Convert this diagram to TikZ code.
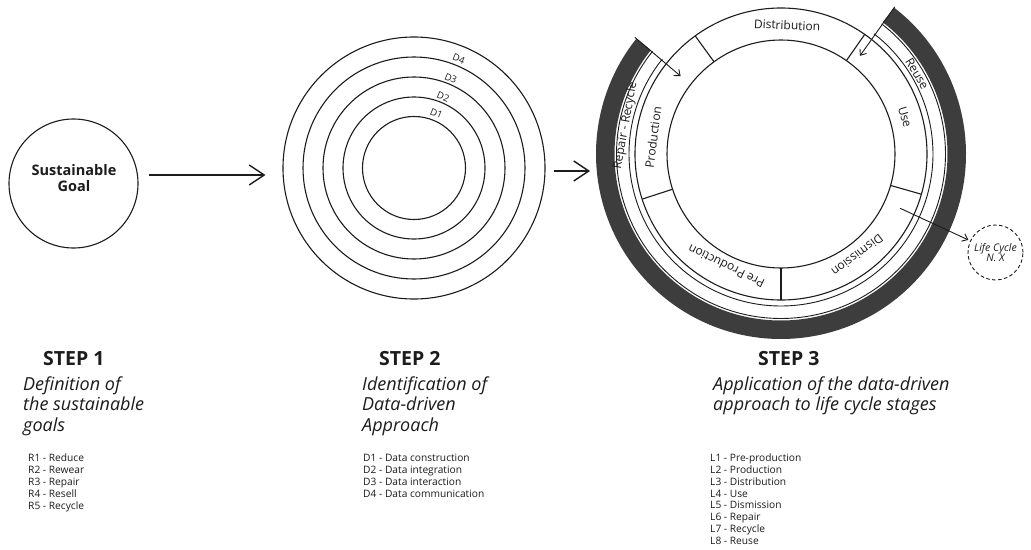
\documentclass[tikz,border=0pt]{standalone}
\usepackage{fontspec}
\setmainfont{Open Sans}
\usetikzlibrary{arrows.meta}
\definecolor{ink}{HTML}{1C1C1C}
\definecolor{bandgrey}{HTML}{3D3D3D}
\tikzset{
  ring/.style={draw=ink, line width=1.1pt},
  thinring/.style={draw=ink, line width=0.9pt},
  bigarrow/.style={draw=ink, line width=1.4pt, -{Straight Barb[length=15pt,width=20pt]}},
  smallarrow/.style={draw=ink, line width=0.9pt, -{Straight Barb[length=5pt,width=8pt]}},
  heading/.style={anchor=base west, inner sep=0pt, font=\bfseries\fontsize{19.5}{23}\selectfont, text=ink},
  subline/.style={anchor=base west, inner sep=0pt, font=\itshape\fontsize{18}{21}\selectfont, text=ink},
  listline/.style={anchor=base west, inner sep=0pt, font=\fontsize{10.2}{12}\selectfont, text=ink},
  goaltext/.style={anchor=base, inner sep=0pt, font=\bfseries\fontsize{14.5}{16}\selectfont, text=ink},
  stage/.style={inner sep=0pt, font=\fontsize{12}{14}\selectfont, text=ink},
  dlabel/.style={inner sep=0pt, font=\fontsize{9.5}{11}\selectfont, text=ink},
  lifecycle/.style={circle, draw=ink, line width=0.9pt, dash pattern=on 3.5pt off 2.5pt,
    minimum size=55pt, inner sep=0pt, align=center,
    font=\itshape\fontsize{10.5}{10.5}\selectfont, text=ink},
}
\begin{document}
\begin{tikzpicture}[x=1pt, y=-1pt]
\useasboundingbox[fill=white] (0,0) rectangle (1031,549);

% ---------- Step 1: the goal ----------
\node[circle, ring, minimum size=129pt, inner sep=0pt] (goal) at (73.5,183.5) {};
\node[goaltext] (goalA) at (74,175.3) {Sustainable};
\node[goaltext] (goalB) at (74,191.7) {Goal};

% ---------- Step 2: nested data rings ----------
\foreach \r [count=\i] in {51.5,71,91,111,131}
  \node[circle, ring, minimum size=2*\r*1pt, inner sep=0pt] (dring\i) at (414,168) {};
\begin{scope}[shift={(414,168)}, y=1pt]
  \foreach \r [count=\i] in {59,77,97,118}
    \node[dlabel, rotate=-22.3] (dlab\i) at (67.7:\r) {D\i};
\end{scope}

% ---------- Step 3: life cycle wheel ----------
\begin{scope}[shift={(781,154)}, y=1pt]
  % outer end-of-life band
  \fill[bandgrey] (141.4:166.5) arc[start angle=141.4, end angle=412.3, radius=166.5]
    -- (412.3:185) arc[start angle=412.3, end angle=141.4, radius=185] -- cycle;
  \draw[thinring] (141.4:164.5) arc[start angle=141.4, end angle=412.3, radius=164.5];
  \draw[thinring] (141.4:152) arc[start angle=141.4, end angle=412.3, radius=152];
  % stage ring
  \draw[ring] (0,0) circle[radius=114];
  \draw[ring] (0,0) circle[radius=146];
  \foreach \a in {126,55,-16,-90,198}
    \draw[ring] (\a:114) -- (\a:146);
  % stage names
  \node[stage, rotate=82.6]  (production)    at (172.6:129) {Production};
  \node[stage, rotate=-2.7]  (distribution)  at (87.3:129)  {Distribution};
  \node[stage, rotate=-73.4] (use)           at (16.6:129.4) {Use};
  \node[stage, rotate=217]   (dismission)    at (-53:127)   {Dismission};
  \node[stage, rotate=154]   (preproduction) at (244:125)   {Pre Production};
  \node[stage, rotate=79.7]  (repair)        at (169.7:158) {Repair - Recycle};
  \node[stage, rotate=-59.5] (reuse)         at (30.5:158) {Reuse};
  % arrow anchors
  \coordinate (loopLs) at (141.4:187);
  \coordinate (loopLe) at (142.2:127);
  \coordinate (loopRs) at (52.3:186);
  \coordinate (loopRe) at (51.2:126);
  \coordinate (exitS)  at (-24.5:131);
  \coordinate (bandW)  at (180:185);
\end{scope}

\node[lifecycle] (lc) at (995.5,252.5) {Life Cycle\\N. X};

% ---------- connectors ----------
\draw[bigarrow, shorten <=10pt, shorten >=17pt] (goal.east |- 0,175) -- (dring5.west |- 0,175);
\draw[bigarrow, shorten <=8pt, shorten >=6pt] (dring5.east |- 0,171) -- (bandW |- 0,171);
\draw[smallarrow] (loopLs) -- (loopLe);
\draw[smallarrow] (loopRs) -- (loopRe);
\draw[smallarrow, shorten >=2pt] (exitS) -- (lc);

% ---------- captions ----------
\node[heading] (h1) at (43,365) {STEP 1};
\node[heading] (h2) at (379,365) {STEP 2};
\node[heading] (h3) at (758,365) {STEP 3};

\foreach \t [count=\i from 0] in {Definition of, the sustainable, goals}
  \node[subline] (sa\i) at (23,390+20.5*\i) {\t};
\foreach \t [count=\i from 0] in {Identification of, Data-driven, Approach}
  \node[subline] (sb\i) at (362,390+20.5*\i) {\t};
\foreach \t [count=\i from 0] in {Application of the data-driven, approach to life cycle stages}
  \node[subline] (sc\i) at (713,390+20.5*\i) {\t};

\foreach \t [count=\i from 0] in {R1 - Reduce, R2 - Rewear, R3 - Repair, R4 - Resell, R5 - Recycle}
  \node[listline] (la\i) at (28,461.7+12*\i) {\t};
\foreach \t [count=\i from 0] in {D1 - Data construction, D2 - Data integration, D3 - Data interaction, D4 - Data communication}
  \node[listline] (lb\i) at (363,461.7+12*\i) {\t};
\foreach \t [count=\i from 0] in {L1 - Pre-production, L2 - Production, L3 - Distribution, L4 - Use, L5 - Dismission, L6 - Repair, L7 - Recycle, L8 - Reuse}
  \node[listline] (lc\i) at (710,461.7+11.8*\i) {\t};
\end{tikzpicture}
\end{document}
